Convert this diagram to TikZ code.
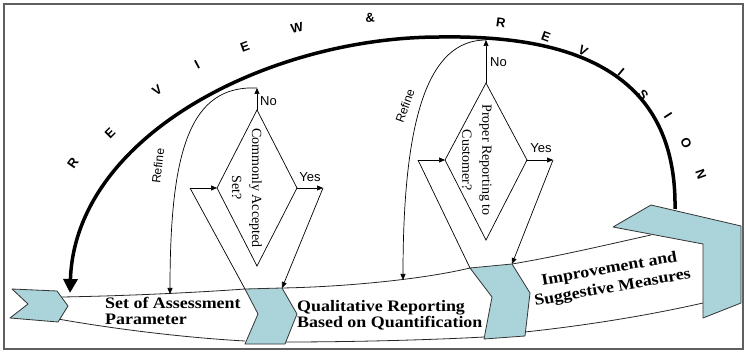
\documentclass[tikz,border=0pt]{standalone}
\usepackage{fontspec}
\setmainfont{Liberation Serif}
\newfontfamily\sansf{Liberation Sans}
\newfontfamily\stagef[FakeStretch=1.12]{Liberation Serif}
\usetikzlibrary{arrows.meta}
\definecolor{chev}{RGB}{170,212,218}
\definecolor{framegray}{RGB}{95,95,95}
\begin{document}
\begin{tikzpicture}[x=1pt,y=-1pt,
  chevron/.style={draw=black!80, fill=chev, line width=0.8pt, line join=round},
  bandline/.style={draw=black!85, line width=0.8pt},
  thinarrow/.style={draw, line width=0.7pt, -{Triangle[length=6pt,width=5pt]}},
  plainline/.style={draw, line width=0.7pt},
  bigarrow/.style={draw, line width=3.5pt, -{Triangle[length=14pt,width=14pt]}},
  lab/.style={font=\sansf\fontsize{13}{14}\selectfont, inner sep=1pt},
  reflab/.style={font=\sansf\fontsize{12}{13}\selectfont, inner sep=0pt},
  letter/.style={font=\sansf\bfseries\fontsize{13}{14}\selectfont, inner sep=0pt},
  stage/.style={font=\stagef\bfseries\fontsize{16}{16}\selectfont, align=left, inner sep=0pt},
  stagerot/.style={font=\stagef\bfseries\fontsize{16}{19}\selectfont, align=center, inner sep=0pt},
  dtext/.style={font=\fontsize{14}{20}\selectfont, align=center, rotate=-90, inner sep=0pt}
]
\useasboundingbox (0,0) rectangle (746,352);
\draw[framegray, line width=1.5pt] (4,4) rectangle (743,349);

% coordinates
\coordinate (arcR) at (675,209);
\coordinate (arcT) at (440,37);
\coordinate (arcL) at (70,293);
% decision 1
\coordinate (d1t) at (257,110);
\coordinate (d1b) at (257,266);
\coordinate (d1l) at (217,188);
\coordinate (d1r) at (297,188);
\coordinate (v1l) at (190,188);
\coordinate (v1r) at (323,188);
\coordinate (n1) at (257,88);
\coordinate (r1) at (170,294);
% decision 2
\coordinate (d2t) at (486,83);
\coordinate (d2b) at (486,240);
\coordinate (d2l) at (445,160);
\coordinate (d2r) at (527,160);
\coordinate (v2l) at (418,160);
\coordinate (v2r) at (553,160);
\coordinate (n2) at (486,40);
\coordinate (r2) at (403,280);
% chevron corners
\coordinate (c2tl) at (245,289);
\coordinate (c2tr) at (282,288);
\coordinate (c3tl) at (470,268);
\coordinate (c3tr) at (512,264);

% band lines
\draw[bandline] (62,297) .. controls (120,296) and (190,293) .. (c2tl);
\draw[bandline] (58,319) .. controls (120,330) and (190,338) .. (245,341);
\draw[bandline] (c2tr) .. controls (340,287) and (420,280) .. (c3tl);
\draw[bandline] (285,342) .. controls (350,342) and (430,340) .. (484,337);
\draw[bandline] (c3tr) .. controls (560,256) and (610,244) .. (651,235);
\draw[bandline] (525,332) .. controls (590,325) and (650,315) .. (703,303);

% chevrons
\draw[chevron] (12,289) -- (57,291) -- (68,306) -- (58,322) -- (10,318) -- (28,304) -- cycle;
\draw[chevron] (c2tl) -- (c2tr) -- (297,314) -- (285,344) -- (245,344) -- (258,314) -- cycle;
\draw[chevron] (c3tl) -- (c3tr) -- (530,293) -- (525,336) -- (484,339) -- (492,297) -- cycle;
\draw[chevron] (613,227) -- (651,205) -- (741,226) -- (741,303) -- (703,318) -- (703,244) -- cycle;

% stage texts
\node[stage, anchor=north west] (s1) at (105,297) {Set of Assessment\\Parameter};
\node[stage, anchor=north west] (s2) at (297,300) {Qualitative Reporting\\Based on Quantification};
\node[stagerot, rotate=10] (s3) at (611,279) {Improvement and\\Suggestive Measures};

% decision 1
\draw[plainline] (d1t) -- (d1r) -- (d1b) -- (d1l) -- cycle;
\node[dtext] (q1) at (247,188) {Commonly Accepted\\Set?};
\draw[thinarrow] (v1l) -- (d1l);
\draw[thinarrow] (d1r) -- (v1r);
\draw[plainline] (c2tl) -- (v1l);
\draw[thinarrow] (v1r) -- (c2tr);
\draw[thinarrow] (d1t) -- (n1);
\draw[thinarrow] (n1) .. controls (190,85) and (170,150) .. (r1);
\node[lab, anchor=west] (no1) at (259,101) {No};
\node[lab] (yes1) at (310,177) {Yes};
\node[reflab, rotate=83] (ref1) at (158,166) {Refine};

% decision 2
\draw[plainline] (d2t) -- (d2r) -- (d2b) -- (d2l) -- cycle;
\node[dtext] (q2) at (477,160) {Proper Reporting to\\Customer?};
\draw[thinarrow] (v2l) -- (d2l);
\draw[thinarrow] (d2r) -- (v2r);
\draw[plainline] (c3tl) -- (v2l);
\draw[thinarrow] (v2r) -- (c3tr);
\draw[thinarrow] (d2t) -- (n2);
\draw[thinarrow] (n2) .. controls (428,40) and (403,118) .. (r2);
\node[lab, anchor=west] (no2) at (489,62) {No};
\node[lab] (yes2) at (541,148) {Yes};
\node[reflab, rotate=70] (ref2) at (405,106) {Refine};

% review & revision arc
\draw[bigarrow] (arcR) .. controls (677,70) and (570,35) .. (arcT)
   .. controls (270,37) and (75,135) .. (arcL);

% letters
\node[letter, rotate=55] (L1) at (73,163) {R};
\node[letter, rotate=45] (L2) at (110,133) {E};
\node[letter, rotate=35] (L3) at (157,90) {V};
\node[letter, rotate=28] (L4) at (197,65) {I};
\node[letter, rotate=20] (L5) at (245,47) {E};
\node[letter, rotate=12] (L6) at (297,28) {W};
\node[letter, rotate=3] (L7) at (370,18) {\&};
\node[letter, rotate=-8] (L8) at (501,23) {R};
\node[letter, rotate=-20] (L9) at (546,37) {E};
\node[letter, rotate=-30] (L10) at (583,51) {V};
\node[letter, rotate=-40] (L11) at (621,72) {I};
\node[letter, rotate=-50] (L12) at (643,95) {S};
\node[letter, rotate=-57] (L13) at (668,116) {I};
\node[letter, rotate=-64] (L14) at (686,143) {O};
\node[letter, rotate=-70] (L15) at (701,174) {N};
\end{tikzpicture}
\end{document}
